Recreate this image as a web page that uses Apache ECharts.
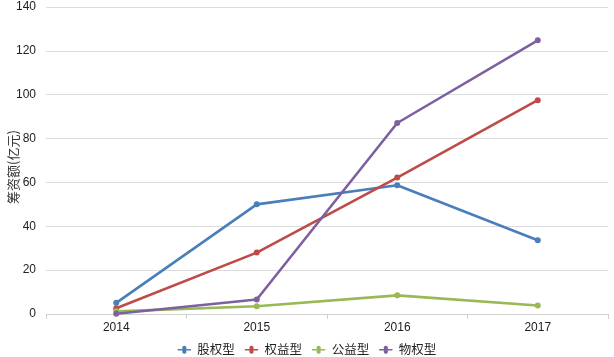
<!DOCTYPE html>
<html><head><meta charset="utf-8">
<script src="https://cdn.jsdelivr.net/npm/echarts@6/dist/echarts.min.js"></script>
<style>html,body{margin:0;padding:0;background:#fff}#c{width:614px;height:357px}</style>
</head><body><div id="c"></div>
<script>
const categories = ['2014','2015','2016','2017'];
const guquan = [5.1, 50, 58.7, 33.6];
const quanyi = [2.6, 28, 62.2, 97.5];
const gongyi = [1.2, 3.5, 8.5, 3.9];
const wuquan = [0.1, 6.6, 87.1, 124.8];
const seriesNames = ['股权型','权益型','公益型','物权型'];
const yTicks = [0, 20, 40, 60, 80, 100, 120, 140];
const yName = '筹资额(亿元)';
const colors = ['#4a7ebb','#be4b48','#98b954','#7d60a0'];
const chart = echarts.init(document.getElementById('c'), null, {renderer:'canvas'});
const datas = [guquan, quanyi, gongyi, wuquan];
const legendIcon = 'path://M0,2.7 L8,2.7 A3.5,3.5 0 1 1 14,2.7 L22,2.7 L22,5.3 L14,5.3 A3.5,3.5 0 1 1 8,5.3 L0,5.3 Z';
chart.setOption({
  animation:false,
  color: colors,
  grid:{left:46, right:6, top:7, bottom:43, containLabel:false, outerBoundsMode:'none'},
  graphic:[{
    type:'text', x:13, y:167, rotation:Math.PI/2,
    style:{text:yName, fontFamily:'Noto Sans CJK SC', fontSize:13, fill:'#333', align:'center', verticalAlign:'middle'}
  }],
  legend:{
    bottom:-4, left:'center', itemWidth:22, itemHeight:8, itemGap:10,
    textStyle:{fontFamily:'Noto Sans CJK SC', fontSize:12.5, color:'#222', padding:[0,0,0,-3]},
    data: seriesNames.map(n=>({name:n, icon:legendIcon}))
  },
  xAxis:{
    type:'category', data:categories, boundaryGap:true,
    axisLine:{lineStyle:{color:'#d0d0d0', width:1}},
    axisTick:{show:true, length:5, lineStyle:{color:'#d0d0d0'}},
    axisLabel:{color:'#222', fontFamily:'Liberation Sans, Arial', fontSize:12, margin:8}
  },
  yAxis:{
    type:'value', min:yTicks[0], max:yTicks[yTicks.length-1], interval:20,
    axisLine:{show:false}, axisTick:{show:false},
    axisLabel:{color:'#222', fontFamily:'Liberation Sans, Arial', fontSize:12, margin:10},
    splitLine:{lineStyle:{color:'#dcdcdc', width:1}}
  },
  series: seriesNames.map((n,i)=>({
    name:n, type:'line', data:datas[i],
    symbol:'circle', symbolSize:6,
    lineStyle:{width:2.6, color:colors[i]},
    itemStyle:{color:colors[i]}
  }))
});
</script></body></html>
